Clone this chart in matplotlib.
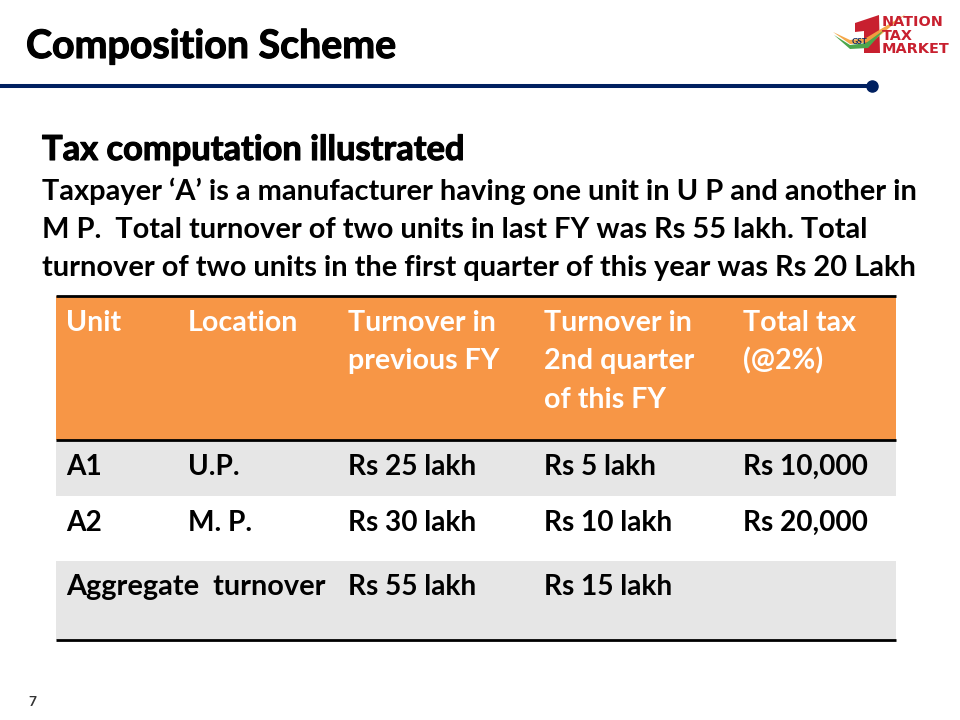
#  Slide "Composition Scheme": tax computation table, drawn in pixel coordinates

import matplotlib
matplotlib.use("Agg")
import matplotlib.pyplot as plt
import matplotlib.patheffects as pe
from matplotlib.patches import Polygon, Rectangle

plt.rcParams["font.family"] = ["Lato", "DejaVu Sans"]

# Step 1: slide text and table contents

title = "Composition Scheme"
heading = "Tax computation illustrated"
body_lines = [
    "Taxpayer ‘A’ is a manufacturer having one unit in U P and another in",
    "M P.  Total turnover of two units in last FY was Rs 55 lakh. Total",
    "turnover of two units in the first quarter of this year was Rs 20 Lakh",
]
headers = ["Unit", "Location", "Turnover in\nprevious FY",
           "Turnover in\n2nd quarter\nof this FY", "Total tax\n(@2%)"]
row_a1 = ["A1", "U.P.", "Rs 25 lakh", "Rs 5 lakh", "Rs 10,000"]
row_a2 = ["A2", "M. P.", "Rs 30 lakh", "Rs 10 lakh", "Rs 20,000"]
row_total = ["Aggregate  turnover", "", "Rs 55 lakh", "Rs 15 lakh", ""]
logo_words = ["NATION", "TAX", "MARKET"]
page_number = "7"

NAVY = "#002060"
ORANGE = "#F79646"
GREY = "#E6E6E6"
LOGO_RED = "#C8202F"

col_x = [66, 188, 348, 544, 743]

# Step 2: full-slide axes in pixels

fig = plt.figure(figsize=(9.6, 7.2), dpi=100)
ax = fig.add_axes([0, 0, 1, 1])
ax.set_xlim(0, 960)
ax.set_ylim(720, 0)
ax.axis("off")

# thickens the big bold text a little
heavy = [pe.withStroke(linewidth=0.8, foreground="black")]

# Step 3: title, rule and logo

ax.text(26, 58, title, fontsize=28.3, fontweight="bold", color="black", va="baseline",
        path_effects=heavy)
ax.plot([0, 872], [86, 86], color=NAVY, linewidth=2.9, solid_capstyle="butt")
ax.plot([872], [86], marker="o", markersize=8, color=NAVY)

ax.add_patch(Polygon([(855, 23), (879, 15), (880, 53), (864, 53), (864, 31), (855, 32)],
                     closed=True, facecolor=LOGO_RED, edgecolor="none"))
ax.add_patch(Polygon([(833, 32), (850, 40), (866, 38), (906, 14), (872, 42), (850, 44)],
                     closed=True, facecolor="#F4A340", edgecolor="none", alpha=0.95))
ax.add_patch(Polygon([(834, 35), (850, 45), (866, 43), (884, 30), (868, 48), (850, 49)],
                     closed=True, facecolor="#4CA64C", edgecolor="none"))
ax.text(859, 42, "GST", fontsize=6, fontweight="bold", color=NAVY, ha="center", va="center")
for word, y in zip(logo_words, [21.5, 35.5, 49]):
    ax.text(882, y, word, family="DejaVu Sans", fontsize=10.4, fontweight="bold",
            color=LOGO_RED, va="center")

# Step 4: heading and body

ax.text(42, 160, heading, fontsize=24.8, fontweight="bold", color="black", va="baseline",
        path_effects=heavy)
for line, y in zip(body_lines, [200, 238, 276]):
    ax.text(42, y, line, fontsize=20.85, fontweight="bold", color="black", va="baseline")

# Step 5: table

ax.add_patch(Rectangle((56, 296), 840, 144, facecolor=ORANGE, edgecolor="none"))
ax.add_patch(Rectangle((56, 440), 840, 56, facecolor=GREY, edgecolor="none"))
ax.add_patch(Rectangle((56, 561), 840, 79, facecolor=GREY, edgecolor="none"))
for y in [296, 440, 640]:
    ax.plot([56, 896], [y, y], color="black", linewidth=2.0, solid_capstyle="butt")

for x, label in zip(col_x, headers):
    for i, part in enumerate(label.split("\n")):
        ax.text(x, 331 + i * 38.5, part, fontsize=20.6, fontweight="bold",
                color="white", va="baseline")

for row, y in zip([row_a1, row_a2, row_total], [475, 531, 595]):
    for x, cell in zip(col_x, row):
        if cell:
            ax.text(x, y, cell, fontsize=20.8 if cell == row_total[0] else 20.2,
                    fontweight="bold", color="black", va="baseline")

ax.text(32, 706, page_number, fontsize=10, fontweight="bold", color="#333333",
        ha="center", va="baseline")

plt.savefig("out.png", dpi=100)
plt.close()
